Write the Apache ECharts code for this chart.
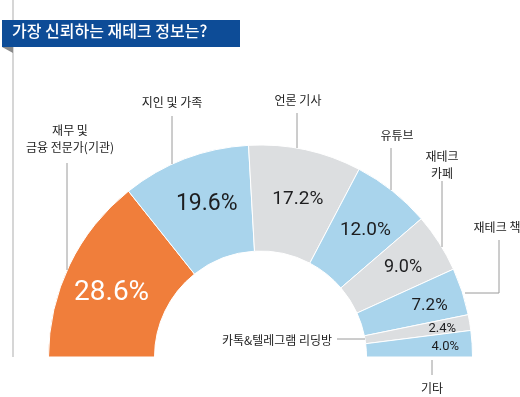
<!DOCTYPE html>
<html>
<head>
<meta charset="utf-8">
<script src="https://cdn.jsdelivr.net/npm/echarts@6/dist/echarts.min.js"></script>
<style>
  html, body { margin: 0; padding: 0; background: #fff; }
  #chart { width: 520px; height: 397px; }
</style>
</head>
<body>
<div id="chart"></div>
<script>
// 데이터
const categories = [
  "재무 및\n금융 전문가(기관)",
  "지인 및 가족",
  "언론 기사",
  "유튜브",
  "재테크\n카페",
  "재테크 책",
  "카톡&텔레그램 리딩방",
  "기타",
];
const values = [28.6, 19.6, 17.2, 12.0, 9.0, 7.2, 2.4, 4.0];
const title = "가장 신뢰하는 재테크 정보는?";

// 스타일
const ORANGE = "#F07E3B";
const BLUE = "#A9D4EC";
const GRAY = "#DCDEE0";
const sliceColors = [ORANGE, BLUE, GRAY, BLUE, GRAY, BLUE, GRAY, BLUE];
const pctSizes = [28, 23, 19, 19, 18, 17, 13, 13];
// 안쪽 % 라벨 위치 보정 (dx, dy)
const pctShift = [[-3, 6], [4, -1], [3, 1], [4, 0], [6, -2], [15, -1], [22, -2], [23, 0]];
const NUM_FONT = "Roboto, 'Liberation Sans', sans-serif";
const KR_FONT = "'Noto Sans CJK KR', sans-serif";

const CX = 260.5, CY = 357, R0 = 106, R1 = 212;

// 바깥 라벨 위치와 지시선
const outLabelPos = [
  [70, 139], [172, 102], [298, 100], [397, 135],
  [442, 165], [497, 227], [277, 340], [432, 388],
];
const outLinePts = [
  [[67, 163], [67, 270]],
  [[172, 116], [172, 164]],
  [[297, 113], [297, 148]],
  [[391, 148], [391, 190]],
  [[442, 181], [442, 247]],
  [[499, 240], [499, 293], [465, 293]],
  [[337, 339], [365, 339]],
  [[432, 360], [432, 375]],
];

const chart = echarts.init(document.getElementById("chart"), null, { renderer: "canvas" });

const pieData = values.map((v, i) => ({
  name: categories[i],
  value: v,
  itemStyle: { color: sliceColors[i] },
  label: {
    fontSize: pctSizes[i],
    color: i === 0 ? "#fff" : "#1d1d1f",
  },
}));

const option = {
  animation: false,
  graphic: [
    { type: "line", shape: { x1: 13, y1: 0, x2: 13, y2: 20 }, style: { stroke: "#c8c8c8", lineWidth: 1.5 } },
    { type: "line", shape: { x1: 13, y1: 47, x2: 13, y2: 357 }, style: { stroke: "#c8c8c8", lineWidth: 1.5 } },
    { type: "polygon", shape: { points: [[2, 47], [13, 47], [13, 53]] }, style: { fill: "#8a8a8a" } },
    { type: "rect", shape: { x: 2, y: 20, width: 238, height: 27 }, style: { fill: "#0D4C97" } },
    {
      type: "text", left: 12, top: 23,
      style: { text: title, fill: "#fff", font: "500 16px " + KR_FONT },
    },
  ],
  series: [
    {
      type: "pie",
      center: [CX, CY],
      radius: [R0, R1],
      startAngle: 180,
      endAngle: 0,
      clockwise: true,
      silent: true,
      data: pieData,
      itemStyle: { borderColor: "#fff", borderWidth: 1 },
      label: {
        position: "inside",
        fontFamily: NUM_FONT,
        formatter: (p) => p.value.toFixed(1) + "%",
      },
      labelLine: { show: false },
      labelLayout: (p) => ({
        dx: pctShift[p.dataIndex][0],
        dy: pctShift[p.dataIndex][1],
      }),
    },
    {
      type: "pie",
      center: [CX, CY],
      radius: [R0, R1],
      startAngle: 180,
      endAngle: 0,
      clockwise: true,
      silent: true,
      z: 3,
      data: values.map((v, i) => ({ name: categories[i], value: v })),
      itemStyle: { color: "rgba(0,0,0,0)" },
      label: {
        position: "outside",
        formatter: "{b}",
        fontFamily: KR_FONT,
        fontSize: 12,
        lineHeight: 17,
        color: "#222",
        align: "center",
        overflow: "none",
      },
      labelLine: { show: true, lineStyle: { color: "#9a9a9a", width: 1 } },
      labelLayout: (p) => ({
        x: outLabelPos[p.dataIndex][0],
        y: outLabelPos[p.dataIndex][1],
        align: "center",
        verticalAlign: "middle",
        width: 200,
        labelLinePoints: outLinePts[p.dataIndex],
      }),
    },
  ],
};

chart.setOption(option);
</script>
</body>
</html>
